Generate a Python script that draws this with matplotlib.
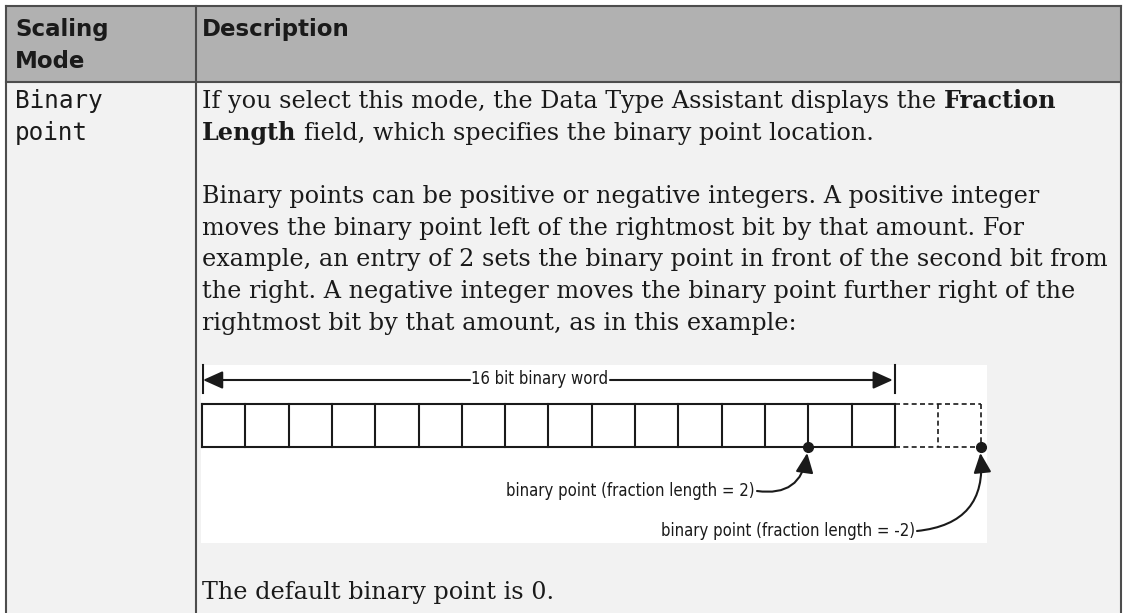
import matplotlib
matplotlib.use('Agg')
import matplotlib.pyplot as plt
from matplotlib.patches import Rectangle

# table content
header_mode = ['Scaling', 'Mode']
header_desc = 'Description'
mode_name = ['Binary', 'point']

# each line = list of (text, weight) segments, joined by a space
para1 = [
    [('If you select this mode, the Data Type Assistant displays the', 'normal'), ('Fraction', 'bold')],
    [('Length', 'bold'), ('field, which specifies the binary point location.', 'normal')],
]
para2 = [
    'Binary points can be positive or negative integers. A positive integer',
    'moves the binary point left of the rightmost bit by that amount. For',
    'example, an entry of 2 sets the binary point in front of the second bit from',
    'the right. A negative integer moves the binary point further right of the',
    'rightmost bit by that amount, as in this example:',
]
para3 = 'The default binary point is 0.'

# diagram content
word_bits = 16
extra_bits = 2
word_label = '16 bit binary word'
fraction_lengths = [2, -2]

W, H = 1123, 613
fig = plt.figure(figsize=(W / 100, H / 100), dpi=100)
ax = fig.add_axes([0, 0, 1, 1])
ax.set_xlim(0, W)
ax.set_ylim(H, 0)
ax.axis('off')
renderer = fig.canvas.get_renderer()

border = '#4d4d4d'
left, mid, right, top, head_bot = 6, 196, 1121, 6, 82

# backgrounds
ax.add_patch(Rectangle((left, top), right - left, head_bot - top, fc='#b1b1b1', ec='none'))
ax.add_patch(Rectangle((left, head_bot), right - left, H - head_bot, fc='#f2f2f2', ec='none'))
# grid lines
ax.plot([left, right], [top, top], color=border, lw=1.5)
ax.plot([left, right], [head_bot, head_bot], color=border, lw=1.5)
for x in (left, mid, right):
    ax.plot([x, x], [top, H], color=border, lw=1.5)

# header
hdr = dict(family='DejaVu Sans', weight='bold', size=16.5, color='#1a1a1a', va='baseline')
ax.text(15, 36, header_mode[0], **hdr)
ax.text(15, 68, header_mode[1], **hdr)
ax.text(202, 36, header_desc, **hdr)

# mode column
mono = dict(family='DejaVu Sans Mono', size=17.5, color='#1a1a1a', va='baseline')
ax.text(15, 108, mode_name[0], **mono)
ax.text(15, 140, mode_name[1], **mono)

# description text
serif = dict(family='DejaVu Serif', size=17.2, color='#1a1a1a', va='baseline')


def width(s, **kw):
    t = ax.text(0, 0, s, **kw)
    w = t.get_window_extent(renderer).width
    t.remove()
    return w


space = width('a a', **serif) - width('aa', **serif)
x0 = 202
step = 31.7
y = 108
for line in para1:
    x = x0
    for txt, wt in line:
        t = ax.text(x, y, txt, weight=wt, **serif)
        x += t.get_window_extent(renderer).width + space
    y += step
y += step
for line in para2:
    ax.text(x0, y, line, **serif)
    y += step
ax.text(x0, 599, para3, **serif)

# diagram
ax.add_patch(Rectangle((201, 365), 786, 178, fc='white', ec='none'))
dk = '#1a1a1a'
cx0, cw = 202, 43.3
cy0, cy1 = 404, 447
xw = cx0 + word_bits * cw
xe = xw + extra_bits * cw
lw = 1.5
ax.plot([cx0, xw], [cy0, cy0], color=dk, lw=lw)
ax.plot([cx0, xw], [cy1, cy1], color=dk, lw=lw)
for i in range(word_bits + 1):
    ax.plot([cx0 + i * cw] * 2, [cy0, cy1], color=dk, lw=lw)
ax.plot([xw, xe], [cy0, cy0], color=dk, lw=1.2, ls=(0, (3, 2)))
ax.plot([xw, xe], [cy1, cy1], color=dk, lw=1.2, ls=(0, (3, 2)))
for i in range(1, extra_bits + 1):
    ax.plot([xw + i * cw] * 2, [cy0, cy1], color=dk, lw=1.2, ls=(0, (3, 2)))

# word length arrow
ax.plot([203, 203], [365, 393], color=dk, lw=lw)
ax.plot([xw, xw], [365, 393], color=dk, lw=lw)
cond = dict(family=['Liberation Sans Narrow', 'DejaVu Sans'], stretch='condensed', size=12, color=dk)
ax.text(540, 379, word_label, ha='center', va='center', **cond)
aprops = dict(arrowstyle='-|>,head_length=1.0,head_width=0.45', mutation_scale=12,
              color=dk, lw=lw, shrinkA=0, shrinkB=0)
ax.annotate('', xy=(203, 380), xytext=(470, 380), arrowprops=aprops)
ax.annotate('', xy=(xw - 2, 380), xytext=(610, 380), arrowprops=aprops)

# binary point markers
label_end = [(755, 491), (915, 531)]
for fl, (lx, ly) in zip(fraction_lengths, label_end):
    px = cx0 + (word_bits - fl) * cw
    ax.plot(px, cy1, 'o', color=dk, ms=7)
    ax.text(lx, ly, f'binary point (fraction length = {fl})', ha='right', va='center', **cond)
    ax.annotate('', xy=(px - 1, cy1 + 6), xytext=(lx + 2, ly),
                arrowprops=dict(aprops, connectionstyle='arc3,rad=0.5'))

fig.savefig('out.png', dpi=100)
